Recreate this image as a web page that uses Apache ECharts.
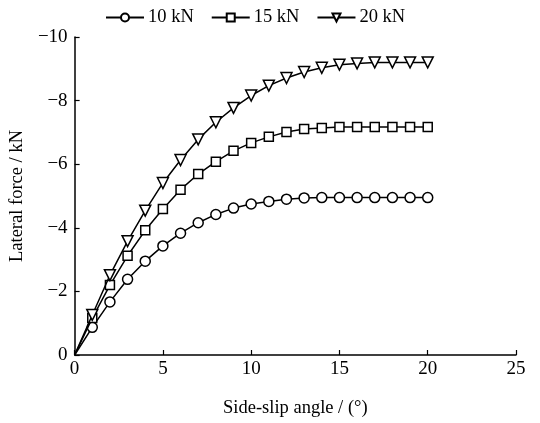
<!DOCTYPE html>
<html>
<head>
<meta charset="utf-8">
<script src="https://cdn.jsdelivr.net/npm/echarts@6/dist/echarts.min.js"></script>
<style>html,body{margin:0;padding:0;background:#fff;}#c{width:540px;height:423px;}</style>
</head>
<body>
<div id="c"></div>
<script>
const angles = [0,1,2,3,4,5,6,7,8,9,10,11,12,13,14,15,16,17,18,19,20];
const seriesNames = ['10 kN','15 kN','20 kN'];
const force10 = [0,-0.87,-1.67,-2.38,-2.95,-3.43,-3.83,-4.16,-4.42,-4.62,-4.75,-4.83,-4.9,-4.94,-4.95,-4.95,-4.95,-4.95,-4.95,-4.95,-4.95];
const force15 = [0,-1.16,-2.2,-3.12,-3.92,-4.59,-5.2,-5.69,-6.08,-6.42,-6.67,-6.86,-7.01,-7.11,-7.14,-7.17,-7.17,-7.17,-7.17,-7.17,-7.17];
const force20 = [0,-1.26,-2.51,-3.58,-4.54,-5.41,-6.13,-6.78,-7.32,-7.77,-8.16,-8.47,-8.71,-8.9,-9.03,-9.13,-9.17,-9.2,-9.2,-9.2,-9.2];
const xTicks = [0,5,10,15,20,25];
const yTicks = [-10,-8,-6,-4,-2,0];

const font = '"Liberation Serif","Times New Roman",serif';
function mk(vals){
  return angles.map((a,i)=> i===0 ? {value:[a,vals[i]], symbol:'none'} : [a,vals[i]]);
}
const symbols = [
  {symbol:'circle', size:10, rot:0},
  {symbol:'rect', size:9, rot:0},
  {symbol:'triangle', size:11, rot:180}
];
const allVals = [force10, force15, force20];
const chart = echarts.init(document.getElementById('c'), null, {renderer:'canvas'});
chart.setOption({
  backgroundColor:'#fff',
  animation:false,
  textStyle:{fontFamily:font, color:'#000'},
  legend:{
    top:3, left:100,
    itemWidth:38, itemHeight:10, itemGap:17,
    textStyle:{fontFamily:font, fontSize:18.5, color:'#000', padding:[0,0,0,-1]},
    data:seriesNames
  },
  grid:{left:73, right:24, top:37, bottom:66, containLabel:false},
  xAxis:{
    type:'value', min:0, max:25, interval:5,
    name:'Side-slip angle / (°)', nameLocation:'middle', nameGap:44,
    nameTextStyle:{fontFamily:font, fontSize:18.5, color:'#000'},
    axisLine:{show:true, lineStyle:{color:'#000', width:1.5}},
    axisTick:{show:true, inside:true, length:5, lineStyle:{color:'#000', width:1.2}},
    axisLabel:{fontFamily:font, fontSize:19, color:'#000', margin:5},
    splitLine:{show:false}
  },
  yAxis:{
    type:'value', min:-10, max:0, interval:2, inverse:true,
    name:'Lateral force / kN', nameLocation:'middle', nameGap:44,
    nameTextStyle:{fontFamily:font, fontSize:18.5, color:'#000'},
    axisLine:{show:true, lineStyle:{color:'#000', width:1.5}},
    axisTick:{show:true, inside:true, length:5, lineStyle:{color:'#000', width:1.2}},
    axisLabel:{fontFamily:font, fontSize:19, color:'#000', margin:7,
      formatter:v=> String(v).replace('-','\u2212')},
    splitLine:{show:false}
  },
  series: seriesNames.map((n,k)=>({
    name:n, type:'line',
    data: mk(allVals[k]),
    symbol: symbols[k].symbol, symbolSize: symbols[k].size, symbolRotate: symbols[k].rot,
    showAllSymbol:true,
    lineStyle:{color:'#000', width:1.5},
    itemStyle:{color:'#fff', borderColor:'#000', borderWidth:1.5},
    z: 2+k
  }))
});
</script>
</body>
</html>
